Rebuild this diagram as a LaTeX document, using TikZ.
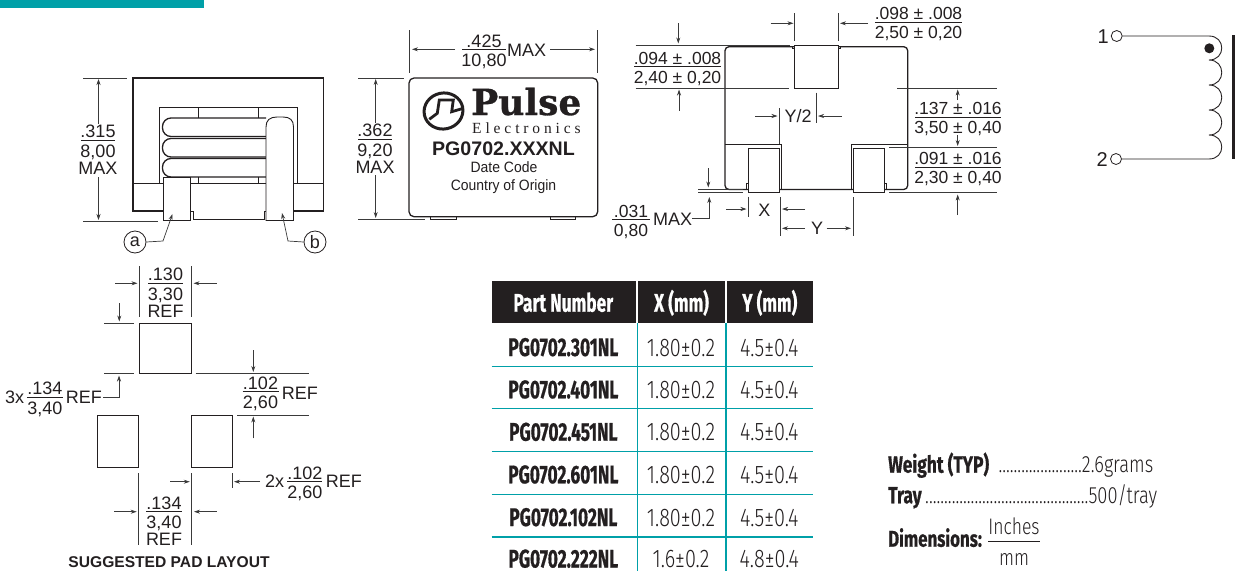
\documentclass[tikz,border=0pt]{standalone}
\usepackage{fontspec}
\usetikzlibrary{arrows.meta}
\setmainfont{Liberation Sans}
\newfontfamily\condf[FakeStretch=0.68,BoldFeatures={FakeBold=0.6,FakeStretch=0.68}]{Fira Sans}
\newfontfamily\condn[FakeStretch=0.74,BoldFeatures={FakeBold=0.6,FakeStretch=0.74}]{Fira Sans}
\newfontfamily\condv[FakeStretch=0.78]{Fira Sans Light}
\newfontfamily\logof[BoldFeatures={FakeBold=0.8}]{DejaVu Serif}
\newfontfamily\elecf[LetterSpace=25]{Liberation Serif}
\newfontfamily\narrowf[FakeStretch=0.93]{Liberation Sans}
\definecolor{ink}{HTML}{231F20}
\definecolor{teal1}{HTML}{00A0A8}
\definecolor{dimc}{HTML}{3A3A3A}
\newcommand\fsz[1]{\fontsize{#1}{#1}\selectfont}
\tikzset{
  dt/.style={inner sep=0pt,anchor=base,text=ink,font=\fsz{18}},
  dtl/.style={dt,anchor=base west},
  dts/.style={dt,font=\fsz{17.5}},
  dimln/.style={line width=0.7pt,draw=dimc},
  barln/.style={line width=0.8pt,draw=ink},
  arr/.style={dimln,-{Stealth[length=6pt,width=4pt]}},
  body/.style={line width=1.3pt,draw=ink},
  thin1/.style={line width=0.8pt,draw=ink},
  lead/.style={line width=0.9pt,draw=ink,fill=white},
  pad/.style={line width=0.9pt,draw=ink,fill=white},
  tealln/.style={line width=1.4pt,draw=teal1},
  tb/.style={inner sep=0pt,anchor=base,text=ink,font=\fsz{25.5}\condf\bfseries},
  tv/.style={inner sep=0pt,anchor=base,text=ink,font=\fsz{25.5}\condv},
  tbl/.style={tb,anchor=base west,font=\fsz{23.5}\condn\bfseries},
  tvl/.style={tv,anchor=base west,font=\fsz{23.5}\condv},
  th/.style={tb,text=white},
}
% name, centre x, bar y, half bar, top, bottom
\newcommand\frc[6]{%
  \draw[barln] ({#2-#4},#3) -- ({#2+#4},#3);
  \node[dt] (#1t) at (#2,{#3-2.5}) {#5};
  \node[dt] (#1b) at (#2,{#3+17}) {#6};}
\newcommand\frcs[6]{%
  \draw[barln] ({#2-#4},#3) -- ({#2+#4},#3);
  \node[dts] (#1t) at (#2,{#3-2.5}) {#5};
  \node[dts] (#1b) at (#2,{#3+16.5}) {#6};}
\begin{document}
\begin{tikzpicture}[x=1pt,y=-1pt]
\useasboundingbox (0,0) rectangle (1239,571);
\fill[teal1] (0,0) rectangle (204,8);

%% ---- side view
\draw[thin1] (159.5,183) -- (159.5,107) -- (297,107) -- (297,183);
\draw[thin1] (198,107) -- (198,118) (258.5,107) -- (258.5,118);
\draw[thin1] (198,177) -- (198,183) (258.5,177) -- (258.5,183);
\draw[body,fill=none] (133,78) rectangle (323.5,211);
\draw[thin1] (133,183) -- (323.5,183);
\fill[white] (191,184) rectangle (266,218);
\draw[thin1] (190.5,183) -- (266,183);
\draw[body,rounded corners=8.5pt] (266,118) -- (162.5,118) -- (162.5,136.5) -- (266,136.5);
\draw[body,rounded corners=8.5pt] (266,138.5) -- (162.5,138.5) -- (162.5,157) -- (266,157);
\draw[body,rounded corners=8.5pt] (266,158.5) -- (162.5,158.5) -- (162.5,177) -- (266,177);
\draw[lead] (163,177) rectangle (190.5,220.5);
\draw[thin1] (190.5,211) -- (193,211) -- (193,219.5) -- (264,219.5) -- (264,211) -- (266,211);
\draw[lead] (266,220.5) -- (266,127) .. controls (266,120) and (270,117) .. (277,117) -- (283,117) .. controls (290,117) and (293.5,120) .. (293.5,127) -- (293.5,220.5) -- cycle;
\draw[dimln] (83,78) -- (127,78) (83,221) -- (158,221);
\draw[arr] (98.5,124) -- (98.5,79);
\draw[arr] (98.5,177) -- (98.5,220);
\frc{a}{98}{140}{17}{.315}{8,00}
\node[dt] (amax) at (98,174.5) {MAX};
\node[circle,draw=ink,line width=0.8pt,minimum size=22pt,inner sep=0pt,font=\fsz{18},text=ink] (ca) at (135,242) {a};
\node[circle,draw=ink,line width=0.8pt,minimum size=22pt,inner sep=0pt,font=\fsz{18},text=ink] (cb) at (315,242) {b};
\draw[arr] (ca.east) -- (163,241) -- (172.5,214);
\draw[arr] (cb.west) -- (288,241) -- (282,213);

%% ---- top view
\draw[pad] (430,216.7) rectangle (456.7,219.7);
\draw[pad] (550,216.7) rectangle (575.7,219.7);
\draw[body,rounded corners=5pt,fill=white] (409,78) rectangle (597.7,216.7);
\draw[dimln] (409,30) -- (409,73) (597.5,30) -- (597.5,73);
\draw[arr] (455,49.3) -- (412,49.3);
\draw[arr] (550,49.3) -- (595,49.3);
\frc{c}{484}{49.5}{22}{.425}{10,80}
\node[dtl] (cmax) at (507,56.7) {MAX};
\draw[dimln] (358,78) -- (404,78) (358,219.7) -- (425,219.7);
\draw[arr] (375.7,123) -- (375.7,79);
\draw[arr] (375.7,175) -- (375.7,218);
\frc{d}{375}{139}{17}{.362}{9,20}
\node[dt] (dmax) at (375,173) {MAX};
% logo
\draw[ink,line width=3pt,rotate around={12:(443.5,111)}] (443.5,111) ellipse [x radius=19.5pt,y radius=18pt];
\draw[ink,line width=2.8pt,line join=miter] (429.3,119.3) -- (437.3,113.3) -- (439.3,100) -- (453.3,100) -- (451.7,111.7) -- (463.3,108.3);
\node[inner sep=0pt,anchor=base west,text=ink,font=\fsz{36}\logof\bfseries] (pulse) at (471,115) {Pulse};
\node[inner sep=0pt,anchor=base west,text=ink,font=\fsz{15.5}\elecf] (elec) at (472,133) {Electronics};
\node[dt,font=\fsz{19.6}\bfseries] (pn) at (503.5,155) {PG0702.XXXNL};
\node[dt,font=\fsz{15}\narrowf] (dc) at (504,172.7) {Date Code};
\node[dt,font=\fsz{15}\narrowf] (co) at (503.5,190) {Country of Origin};

%% ---- bottom view
\draw[body,rounded corners=4pt] (725,46.7) rectangle (907.7,189.5);
\draw[thin1] (725,144.5) -- (781.7,144.5) -- (781.7,189.5);
\draw[thin1] (907.7,144.5) -- (851,144.5) -- (851,189.5);
\draw[pad] (794.7,45.3) rectangle (838.7,88);
\draw[thin1] (792.5,46.7) -- (792.5,48.5) -- (794.7,48.5) (838.7,48.5) -- (840.5,48.5) -- (840.5,46.7);
\draw[thin1] (746.3,189.5) -- (746.3,183.5) -- (748.3,183.5) (884.3,183.5) -- (886.7,183.5) -- (886.7,189.5);
\draw[pad] (748.3,148) rectangle (779.7,192.5);
\draw[pad] (853,148) rectangle (884.3,192.5);
\draw[dimln] (794.7,13.3) -- (794.7,41) (838.7,13.3) -- (838.7,41);
\draw[arr] (770.7,23.3) -- (793.5,23.3);
\draw[arr] (868,23.3) -- (840,23.3);
\frcs{e}{918.5}{22}{43.5}{.098 ± .008}{2,50 ± 0,20}
\draw[dimln] (635.7,45.3) -- (790,45.3) (635.7,88) -- (789,88) (897,88) -- (996.7,88);
\draw[arr] (678.3,23) -- (678.3,43.5);
\draw[arr] (679,110.7) -- (679,89.5);
\frcs{f}{677.5}{66.7}{43.5}{.094 ± .008}{2,40 ± 0,20}
\draw[dimln] (779.3,108) -- (779.3,144) (816.3,92.7) -- (816.3,122.7);
\draw[arr] (755,116) -- (777.5,116);
\draw[arr] (841.7,116) -- (818,116);
\node[dt] (y2) at (798,122.7) {Y/2};
\draw[dimln] (889.3,147.7) -- (996.7,147.7) (889.3,192.7) -- (996.7,192.7);
\draw[arr] (957.7,100) -- (957.7,89.5);
\draw[arr] (957.7,135) -- (957.7,146);
\draw[arr] (957.7,215) -- (957.7,194.5);
\frcs{g}{958}{117.3}{43}{.137 ± .016}{3,50 ± 0,40}
\frcs{h}{958}{167}{43}{.091 ± .016}{2,30 ± 0,40}
\frcs{i}{631}{219.5}{19}{.031}{0,80}
\node[dtl] (imax) at (653,225) {MAX};
\draw[arr] (imax.east |- 0,218) -- (709.3,218) -- (709.3,197);
\draw[dimln] (698,189.3) -- (743,189.3) (698,192) -- (743,192);
\draw[arr] (708.3,168) -- (708.3,187.5);
\draw[dimln] (748.3,196.7) -- (748.3,216.7) (780,197) -- (780,235.7) (853,197) -- (853,235.7);
\draw[arr] (726,209) -- (746.5,209);
\draw[arr] (805,209) -- (782,209);
\draw[arr] (805,228.3) -- (782,228.3);
\draw[arr] (826.7,228.3) -- (851,228.3);
\node[dt] (xl) at (764.3,216.7) {X};
\node[dt] (yl) at (817,234) {Y};

%% ---- schematic
\node[dtl,font=\fsz{20}] (n1) at (1097.5,43.3) {1};
\node[dtl,font=\fsz{20}] (n2) at (1096.5,166) {2};
\node[circle,draw=ink,line width=0.8pt,minimum size=11pt,inner sep=0pt] (o1) at (1116.7,36) {};
\node[circle,draw=ink,line width=0.8pt,minimum size=11pt,inner sep=0pt] (o2) at (1116,159) {};
\draw[ink,line width=0.9pt] (o1.east) -- (1209,36) .. controls (1226,36) and (1226,60) .. (1209,60)
  .. controls (1226,60) and (1226,85) .. (1209,85)
  .. controls (1226,85) and (1226,110) .. (1209,110)
  .. controls (1226,110) and (1226,135) .. (1209,135)
  .. controls (1226,135) and (1226,159) .. (1209,159) -- (o2.east);
\fill[ink] (1209.3,48.3) circle [radius=5pt];
\draw[ink,line width=2.5pt] (1233.3,35) -- (1233.3,159);

%% ---- pad layout
\draw[pad] (139,323.3) rectangle (191,373.7);
\draw[pad] (97.7,415) rectangle (138.3,467.3);
\draw[pad] (191.7,415) rectangle (232.3,467.3);
\draw[dimln] (139.5,266) -- (139.5,316.7) (191.5,266) -- (191.5,316.7);
\draw[arr] (115,283.3) -- (137.5,283.3);
\draw[arr] (216.7,283.3) -- (193.5,283.3);
\frc{j}{165.5}{283.3}{17.5}{.130}{3,30}
\node[dt] (jr) at (165.5,317.3) {REF};
\draw[dimln] (104,323.3) -- (134.3,323.3) (104,373.7) -- (134.3,373.7) (195.7,373.7) -- (309,373.7) (237.3,415) -- (309,415);
\draw[arr] (119.3,303) -- (119.3,321.5);
\draw[arr] (103,397) -- (119,397) -- (119,375.5);
\draw[arr] (253.3,350) -- (253.3,372);
\draw[arr] (253.3,438.3) -- (253.3,416.5);
\node[dtl] (k3) at (5,403.3) {3x};
\frc{k}{44.8}{397.3}{18}{.134}{3,40}
\node[dtl] (kr) at (65.7,403.3) {REF};
\frc{l}{260.5}{391.7}{18}{.102}{2,60}
\node[dtl] (lr) at (281.7,399) {REF};
\draw[dimln] (138.5,473.3) -- (138.5,545) (191.7,473.3) -- (191.7,545) (232.3,473.3) -- (232.3,488);
\draw[arr] (170,481.7) -- (189.8,481.7);
\draw[arr] (260,481.7) -- (234,481.7);
\draw[arr] (114,511.7) -- (136.7,511.7);
\draw[arr] (216.7,511.7) -- (194,511.7);
\frc{m}{164}{511.7}{18}{.134}{3,40}
\node[dt] (mr) at (164,545) {REF};
\node[dtl] (n3) at (265,487.7) {2x};
\frc{n}{304.8}{481.7}{17.5}{.102}{2,60}
\node[dtl] (nr) at (325.7,487.7) {REF};
\node[dt,font=\fsz{15.6}\bfseries] (sug) at (169,567.5) {SUGGESTED PAD LAYOUT};

%% ---- table
\fill[ink] (491.7,281) rectangle (636,323.3);
\fill[ink] (638.3,281) rectangle (725,323.3);
\fill[ink] (727,281) rectangle (812.7,323.3);
\node[th] (h1) at (563.3,311.7) {Part Number};
\node[th] (h2) at (681.5,311.7) {X (mm)};
\node[th] (h3) at (769.8,311.7) {Y (mm)};
\foreach \yy in {366.3,408.7,451.7,494.3,537} \draw[tealln] (491.7,\yy) -- (812.7,\yy);
\draw[tealln] (637.3,323.3) -- (637.3,571) (726,323.3) -- (726,571);
\foreach \i/\yy/\p/\xv/\yv in {
  1/356/PG0702.301NL/1.80±0.2/4.5±0.4,
  2/398.3/PG0702.401NL/1.80±0.2/4.5±0.4,
  3/440.7/PG0702.451NL/1.80±0.2/4.5±0.4,
  4/483.3/PG0702.601NL/1.80±0.2/4.5±0.4,
  5/526/PG0702.102NL/1.80±0.2/4.5±0.4,
  6/567.5/PG0702.222NL/1.6±0.2/4.8±0.4}{
  \node[tb] (p\i) at (563.3,\yy) {\p};
  \node[tv] (x\i) at (681,\yy) {\xv};
  \node[tv] (y\i) at (769.3,\yy) {\yv};
}

%% ---- notes
\node[tbl] (w1) at (888,472.7) {Weight (TYP)};
\node[tvl] (w2) at (998.3,472.7) {......................2.6grams};
\node[tbl] (t1) at (888,503.3) {Tray};
\node[tvl] (t2) at (925,503.3) {...........................................500/tray};
\node[tbl,font=\fsz{22.8}\condn\bfseries] (d1) at (888,546.7) {Dimensions:};
\node[tv,font=\fsz{22.5}\condv] (d2) at (1014,534) {Inches};
\node[tv,font=\fsz{22.5}\condv] (d3) at (1014,565) {mm};
\draw[ink,line width=1pt] (988,541.7) -- (1040,541.7);
\end{tikzpicture}
\end{document}
